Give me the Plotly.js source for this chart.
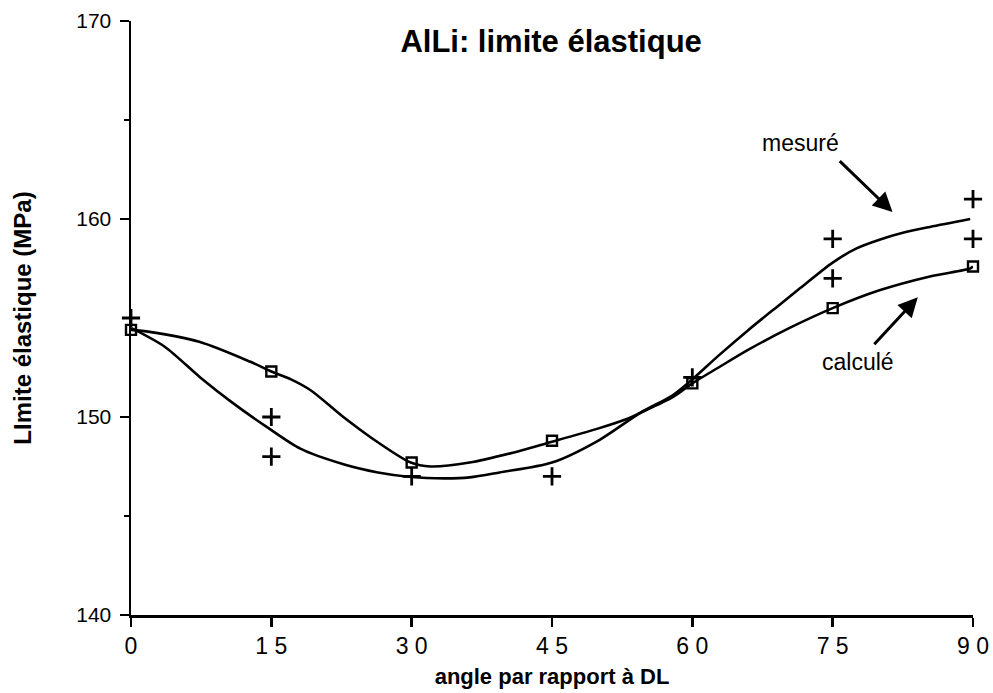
<!DOCTYPE html>
<html>
<head>
<meta charset="utf-8">
<script src="https://cdn.plot.ly/plotly-3.0.1.min.js"></script>
<style>html,body{margin:0;padding:0;background:#fff;}#chart{width:993px;height:693px;}</style>
</head>
<body>
<div id="chart"></div>
<script>
// Calculated points (squares)
const calcAngles = [0, 15, 30, 45, 60, 75, 90];
const calcValues = [154.4, 152.3, 147.7, 148.8, 151.7, 155.5, 157.6];
// Measured points (plus)
const mesAngles = [0, 15, 15, 30, 45, 60, 75, 75, 90, 90];
const mesValues = [155.0, 150.0, 148.0, 147.0, 147.0, 152.0, 159.0, 157.0, 161.0, 159.0];
const mesCurveX = [0, 3.6, 7.4, 10.9, 14.5, 18.1, 22.8, 26.4, 29.9, 33.5, 36.2, 39.4, 45.0, 50.1, 54.4, 57.9, 60.0, 62.8, 66.0, 69.4, 71.5, 75.0, 77.5, 80.0, 82.5, 85.4, 89.7];
const mesCurveY = [154.5, 153.55, 152.0, 150.7, 149.5, 148.4, 147.6, 147.2, 146.97, 146.9, 146.95, 147.2, 147.7, 148.85, 150.2, 151.1, 151.9, 153.1, 154.4, 155.7, 156.5, 157.8, 158.5, 158.95, 159.3, 159.6, 160.0];
// Calculated curve
const calCurveX = [0, 2.0, 7.3, 12.7, 15.0, 17.1, 19.2, 22.7, 26.3, 29.9, 32.0, 36.2, 40.8, 45.0, 49.8, 53.0, 54.4, 57.9, 60.0, 62.8, 66.0, 70.4, 75.0, 80.0, 85.4, 89.7, 90];
const calCurveY = [154.4, 154.3, 153.8, 152.8, 152.3, 151.9, 151.35, 150.0, 148.75, 147.7, 147.5, 147.7, 148.2, 148.75, 149.4, 149.9, 150.2, 151.0, 151.7, 152.5, 153.4, 154.5, 155.5, 156.4, 157.1, 157.5, 157.6];

const title = "AlLi: limite élastique";
const xTitle = "angle par rapport à DL";
const yTitle = "LImite élastique (MPa)";
const xTicks = [0, 15, 30, 45, 60, 75, 90];
const xTickText = ["0", "1 5", "3 0", "4 5", "6 0", "7 5", "9 0"];
const yTicks = [140, 150, 160, 170];

const FONT = "Liberation Sans, Arial, Helvetica, sans-serif";

const traces = [
  {x: mesCurveX, y: mesCurveY, mode: 'lines', line: {color: '#000', width: 2.6, shape: 'spline', smoothing: 0.8}, hoverinfo: 'skip', showlegend: false},
  {x: calCurveX, y: calCurveY, mode: 'lines', line: {color: '#000', width: 2.6, shape: 'spline', smoothing: 0.8}, hoverinfo: 'skip', showlegend: false},
  {x: calcAngles, y: calcValues, mode: 'markers', marker: {symbol: 'square-open', size: 10, color: '#000', line: {color: '#000', width: 2.4}}, cliponaxis: false, showlegend: false},
  {x: mesAngles, y: mesValues, mode: 'markers', marker: {symbol: 'cross-thin-open', size: 13, color: '#000', line: {color: '#000', width: 2.8}}, cliponaxis: false, showlegend: false}
];

const layout = {
  width: 993, height: 693,
  margin: {l: 131, r: 20, t: 21, b: 78},
  paper_bgcolor: '#fff', plot_bgcolor: '#fff',
  font: {family: FONT, color: '#000'},
  title: {text: '<b>' + title + '</b>', font: {family: FONT, size: 31, color: '#000'}, x: 0.555, xanchor: 'center', y: 0.94, yanchor: 'middle'},
  xaxis: {
    range: [0, 90], tickvals: xTicks, ticktext: xTickText,
    showgrid: false, zeroline: false, showline: true, linecolor: '#000', linewidth: 2.5,
    ticks: 'outside', ticklen: 9, tickwidth: 2.5, tickcolor: '#000',
    tickfont: {family: FONT, size: 23, color: '#000'},
    title: {text: '<b>' + xTitle + '</b>', font: {family: FONT, size: 22, color: '#000'}, standoff: 11}
  },
  yaxis: {
    range: [140, 170], tickvals: yTicks,
    showgrid: false, zeroline: false, showline: true, linecolor: '#000', linewidth: 2.5,
    ticks: 'outside', ticklen: 9, tickwidth: 2.5, tickcolor: '#000', ticklabelstandoff: 4,
    minor: {dtick: 5, tick0: 140, ticks: 'outside', ticklen: 5, tickwidth: 2, tickcolor: '#000', showgrid: false},
    tickfont: {family: FONT, size: 21, color: '#000'},
    title: {text: '<b>' + yTitle + '</b>', font: {family: FONT, size: 24, color: '#000'}, standoff: 38}
  },
  annotations: [
    {x: 81.4, y: 160.35, ax: 75.6, ay: 163.0, xref: 'x', yref: 'y', axref: 'x', ayref: 'y', showarrow: true, arrowhead: 2, arrowsize: 1.3, arrowwidth: 3, arrowcolor: '#000', text: ''},
    {x: 71.6, y: 163.85, xref: 'x', yref: 'y', showarrow: false, text: 'mesuré', font: {family: FONT, size: 23, color: '#000'}},
    {x: 84.1, y: 156.05, ax: 79.3, ay: 153.6, xref: 'x', yref: 'y', axref: 'x', ayref: 'y', showarrow: true, arrowhead: 2, arrowsize: 1.3, arrowwidth: 3, arrowcolor: '#000', text: ''},
    {x: 77.7, y: 152.8, xref: 'x', yref: 'y', showarrow: false, text: 'calculé', font: {family: FONT, size: 23, color: '#000'}}
  ]
};

Plotly.newPlot('chart', traces, layout, {displayModeBar: false, staticPlot: true});
</script>
</body>
</html>
